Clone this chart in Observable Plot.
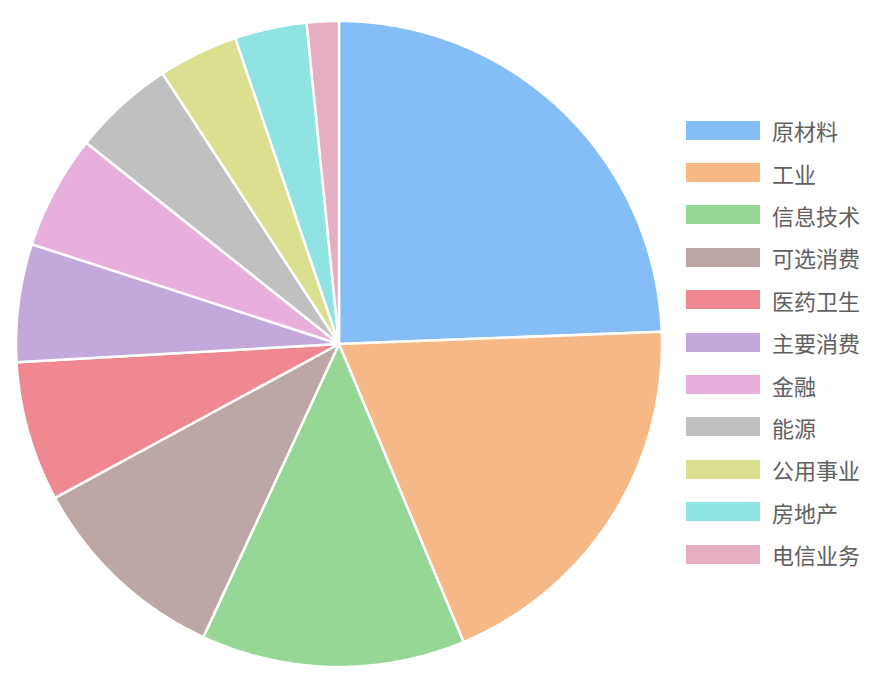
<!DOCTYPE html>
<html>
<head>
<meta charset="utf-8">
<script src="https://cdn.jsdelivr.net/npm/d3@7"></script>
<script src="https://cdn.jsdelivr.net/npm/@observablehq/plot@0.6"></script>
<style>
  html, body { margin: 0; padding: 0; background: #fff; }
  #wrap { position: relative; width: 887px; height: 691px; font-family: "Noto Sans CJK SC", "Noto Sans", sans-serif; }
  #legend { position: absolute; left: 686px; top: 109px; }
  .lg-swatches { display: flex !important; flex-direction: column !important; align-items: flex-start !important; flex-wrap: nowrap !important; font-family: "Noto Sans CJK SC", sans-serif !important; font-size: 22px !important; color: #606060 !important; }
  .lg-swatch { display: flex !important; align-items: center !important; height: 42.4px !important; margin: 0 !important; white-space: nowrap; }
  .lg-swatch > svg { margin-right: 12px !important; }
</style>
</head>
<body>
<div id="wrap"><div id="chart"></div><div id="legend"></div></div>
<script>
const categories = ["原材料", "工业", "信息技术", "可选消费", "医药卫生", "主要消费", "金融", "能源", "公用事业", "房地产", "电信业务"];
const shares = [24.4, 19.3, 13.2, 10.2, 7.0, 5.9, 5.7, 5.1, 4.0, 3.6, 1.6];
const colors = ["#85bdf7", "#f6b886", "#97d795", "#bca7a4", "#f08891", "#c3a9db", "#e8afdc", "#c0c0c0", "#dae090", "#8fe3e3", "#e5aec3"];

// Build slice outlines (unit circle) from the pie layout
const arcs = d3.pie().sort(null).value(d => d.v).startAngle(0).endAngle(2 * Math.PI)(
  categories.map((c, i) => ({c, v: shares[i]}))
);
const pts = [];
for (const a of arcs) {
  const name = a.data.c;
  pts.push({name, x: 0, y: 0});
  const n = Math.max(2, Math.ceil((a.endAngle - a.startAngle) / (Math.PI / 360)));
  for (let k = 0; k <= n; k++) {
    const t = a.startAngle + (a.endAngle - a.startAngle) * k / n;
    pts.push({name, x: Math.sin(t), y: Math.cos(t)});
  }
  pts.push({name, x: 0, y: 0});
}

const W = 887, H = 691, cx = 338.5, cy = 343.5, R = 323;
const chart = Plot.plot({
  width: W,
  height: H,
  margin: 0,
  x: {domain: [-cx / R, (W - cx) / R], axis: null},
  y: {domain: [-(H - cy) / R, cy / R], axis: null},
  color: {domain: categories, range: colors},
  marks: [
    Plot.line(pts, {x: "x", y: "y", z: "name", fill: "name", stroke: "#fff", strokeWidth: 2.5, strokeLinejoin: "round", curve: "linear"})
  ]
});
document.getElementById("chart").appendChild(chart);

const legend = chart.legend("color", {legend: "swatches", swatchWidth: 74, swatchHeight: 19, className: "lg"});
document.getElementById("legend").appendChild(legend);
</script>
</body>
</html>
